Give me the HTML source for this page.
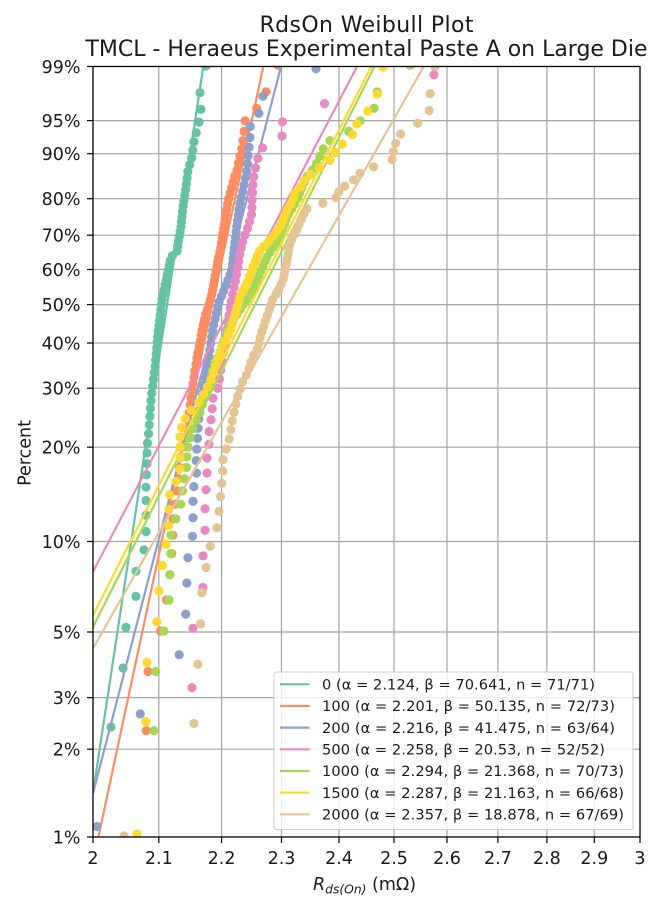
<!DOCTYPE html>
<html><head><meta charset="utf-8">
<style>
html,body{margin:0;padding:0;background:#fff;}
svg{display:block;font-family:"DejaVu Sans","Liberation Sans",sans-serif;}
</style></head>
<body>
<svg id="s" width="664" height="906" viewBox="0 0 664 906" xmlns="http://www.w3.org/2000/svg">
<defs><clipPath id="c"><rect x="93" y="66.5" width="547" height="770.5"/></clipPath></defs>
<rect width="664" height="906" fill="#fff"/>
<!-- grid -->
<g stroke="#a4a4a4" stroke-width="1.2">
<line x1="158.8" y1="66.5" x2="158.8" y2="837"/>
<line x1="221.6" y1="66.5" x2="221.6" y2="837"/>
<line x1="281.5" y1="66.5" x2="281.5" y2="837"/>
<line x1="339" y1="66.5" x2="339" y2="837"/>
<line x1="394" y1="66.5" x2="394" y2="837"/>
<line x1="447" y1="66.5" x2="447" y2="837"/>
<line x1="497.9" y1="66.5" x2="497.9" y2="837"/>
<line x1="546.9" y1="66.5" x2="546.9" y2="837"/>
<line x1="594.3" y1="66.5" x2="594.3" y2="837"/>
<line x1="93" y1="749.2" x2="640" y2="749.2"/>
<line x1="93" y1="697.6" x2="640" y2="697.6"/>
<line x1="93" y1="632" x2="640" y2="632"/>
<line x1="93" y1="541.5" x2="640" y2="541.5"/>
<line x1="93" y1="447.2" x2="640" y2="447.2"/>
<line x1="93" y1="388.2" x2="640" y2="388.2"/>
<line x1="93" y1="343" x2="640" y2="343"/>
<line x1="93" y1="304.6" x2="640" y2="304.6"/>
<line x1="93" y1="269.5" x2="640" y2="269.5"/>
<line x1="93" y1="235.2" x2="640" y2="235.2"/>
<line x1="93" y1="198.7" x2="640" y2="198.7"/>
<line x1="93" y1="153.7" x2="640" y2="153.7"/>
<line x1="93" y1="120.6" x2="640" y2="120.6"/>
</g>
<g clip-path="url(#c)" stroke-width="2.2" fill="none">
<g id="p0"></g><line x1="93" y1="792.9" x2="640" y2="-2808.9" stroke="#66c2a5"/>
<g id="p1"></g><line x1="93" y1="862.3" x2="640" y2="-1694.0" stroke="#fc8d62"/>
<g id="p2"></g><line x1="93" y1="793.4" x2="640" y2="-1321.3" stroke="#8da0cb"/>
<g id="p3"></g><line x1="93" y1="571.8" x2="640" y2="-475.0" stroke="#e78ac3"/>
<g id="p4"></g><line x1="93" y1="627.1" x2="640" y2="-462.4" stroke="#a6d854"/>
<g id="p5"></g><line x1="93" y1="615.4" x2="640" y2="-463.6" stroke="#ffd92f"/>
<g id="p6"></g><line x1="93" y1="648.4" x2="640" y2="-314.1" stroke="#e5c494"/>
</g>
<!-- legend -->
<rect x="274" y="672" width="359" height="157.5" rx="3" fill="#fff" fill-opacity="0.8" stroke="#cccccc" stroke-width="1"/>
<g stroke-width="2.2">
<line x1="280" y1="684.3" x2="309.5" y2="684.3" stroke="#66c2a5"/>
<line x1="280" y1="706" x2="309.5" y2="706" stroke="#fc8d62"/>
<line x1="280" y1="727.6" x2="309.5" y2="727.6" stroke="#8da0cb"/>
<line x1="280" y1="749.3" x2="309.5" y2="749.3" stroke="#e78ac3"/>
<line x1="280" y1="771" x2="309.5" y2="771" stroke="#a6d854"/>
<line x1="280" y1="792.6" x2="309.5" y2="792.6" stroke="#ffd92f"/>
<line x1="280" y1="814.3" x2="309.5" y2="814.3" stroke="#e5c494"/>
</g>
<g font-size="14.6" fill="#1a1a1a">
<text x="322" y="689.5" textLength="273">0 (α = 2.124, β = 70.641, n = 71/71)</text>
<text x="322" y="711.2" textLength="293">100 (α = 2.201, β = 50.135, n = 72/73)</text>
<text x="322" y="732.8" textLength="293">200 (α = 2.216, β = 41.475, n = 63/64)</text>
<text x="322" y="754.5" textLength="283">500 (α = 2.258, β = 20.53, n = 52/52)</text>
<text x="322" y="776.2" textLength="302">1000 (α = 2.294, β = 21.368, n = 70/73)</text>
<text x="322" y="797.8" textLength="302">1500 (α = 2.287, β = 21.163, n = 66/68)</text>
<text x="322" y="819.5" textLength="302">2000 (α = 2.357, β = 18.878, n = 67/69)</text>
</g>
<!-- axes frame -->
<rect x="93" y="66.5" width="547" height="770.5" fill="none" stroke="#000" stroke-width="1.3"/>
<!-- ticks -->
<g stroke="#000" stroke-width="1.2">
<line x1="93" y1="837" x2="93" y2="843"/><line x1="158.8" y1="837" x2="158.8" y2="843"/><line x1="221.6" y1="837" x2="221.6" y2="843"/><line x1="281.5" y1="837" x2="281.5" y2="843"/><line x1="339" y1="837" x2="339" y2="843"/><line x1="394" y1="837" x2="394" y2="843"/><line x1="447" y1="837" x2="447" y2="843"/><line x1="497.9" y1="837" x2="497.9" y2="843"/><line x1="546.9" y1="837" x2="546.9" y2="843"/><line x1="594.3" y1="837" x2="594.3" y2="843"/><line x1="640" y1="837" x2="640" y2="843"/>
<line x1="87" y1="837" x2="93" y2="837"/><line x1="87" y1="749.2" x2="93" y2="749.2"/><line x1="87" y1="697.6" x2="93" y2="697.6"/><line x1="87" y1="632" x2="93" y2="632"/><line x1="87" y1="541.5" x2="93" y2="541.5"/><line x1="87" y1="447.2" x2="93" y2="447.2"/><line x1="87" y1="388.2" x2="93" y2="388.2"/><line x1="87" y1="343" x2="93" y2="343"/><line x1="87" y1="304.6" x2="93" y2="304.6"/><line x1="87" y1="269.5" x2="93" y2="269.5"/><line x1="87" y1="235.2" x2="93" y2="235.2"/><line x1="87" y1="198.7" x2="93" y2="198.7"/><line x1="87" y1="153.7" x2="93" y2="153.7"/><line x1="87" y1="120.6" x2="93" y2="120.6"/><line x1="87" y1="66.5" x2="93" y2="66.5"/>
</g>
<g font-size="17.5" fill="#1a1a1a" text-anchor="middle">
<text x="93" y="864">2</text><text x="158.8" y="864">2.1</text><text x="221.6" y="864">2.2</text><text x="281.5" y="864">2.3</text><text x="339" y="864">2.4</text><text x="394" y="864">2.5</text><text x="447" y="864">2.6</text><text x="497.9" y="864">2.7</text><text x="546.9" y="864">2.8</text><text x="594.3" y="864">2.9</text><text x="640" y="864">3</text>
</g>
<g font-size="17.5" fill="#1a1a1a" text-anchor="end">
<text x="80.5" y="843.4">1%</text><text x="80.5" y="755.6">2%</text><text x="80.5" y="704">3%</text><text x="80.5" y="638.4">5%</text><text x="80.5" y="547.9">10%</text><text x="80.5" y="453.6">20%</text><text x="80.5" y="394.6">30%</text><text x="80.5" y="349.4">40%</text><text x="80.5" y="311">50%</text><text x="80.5" y="275.9">60%</text><text x="80.5" y="241.6">70%</text><text x="80.5" y="205.1">80%</text><text x="80.5" y="160.1">90%</text><text x="80.5" y="127">95%</text><text x="80.5" y="72.9">99%</text>
</g>
<text transform="translate(30.5,453) rotate(-90)" font-size="17.5" fill="#1a1a1a" text-anchor="middle">Percent</text>
<text x="313" y="890" font-size="17.5" fill="#1a1a1a"><tspan font-style="italic">R</tspan><tspan font-style="italic" font-size="12.3" dy="3.5">ds(On)</tspan><tspan dy="-3.5"> (mΩ)</tspan></text>
<text x="366.5" y="32" font-size="22" fill="#1a1a1a" text-anchor="middle" textLength="214">RdsOn Weibull Plot</text>
<text x="366.5" y="56" font-size="22" fill="#1a1a1a" text-anchor="middle" textLength="562">TMCL - Heraeus Experimental Paste A on Large Die</text>
</svg>
<script>
(function(){
var H=66.5,K=125.75,W99=1.52718;
function yF(F){return H+(W99-Math.log(-Math.log(1-F)))*K;}
function interp(cp,y){
  if(y<=cp[0][0])return cp[0][1];
  for(var i=1;i<cp.length;i++){
    if(y<=cp[i][0]){var a=cp[i-1],b=cp[i];var t=(y-a[0])/(b[0]-a[0]);return a[1]+t*(b[1]-a[1]);}
  }
  return cp[cp.length-1][1];
}
var S=[
{c:'#66c2a5',n:71,cp:[[66,206],[92,200],[109,201],[122,199],[141,194],[157,192],[170,188],[187,186],[207,183],[227,181],[243,178],[252,177],[257,171],[300,162],[333,158],[367,155],[400,151],[430,149],[447,147],[463,147],[487,146],[515,146],[532,146],[550,144],[571,136],[596,136],[627,126],[668,123],[727,111],[840,80]]},
{c:'#fc8d62',n:73,cp:[[66,278],[92,266],[108,257],[121,245],[132,244],[140,243],[148,242],[160,239],[170,237],[178,234],[187,232],[197,229],[207,227],[220,225],[233,223],[247,221],[260,218],[283,214],[298,211],[317,205],[330,202],[343,200],[352,198],[370,195],[390,192],[440,186],[453,181],[490,177],[517,173],[533,173],[552,172],[573,170],[598,167],[629,161],[669,148],[729,147],[843,88]]},
{c:'#8da0cb',n:64,cp:[[70,316],[96,263],[113,259],[127,250],[138,250],[148,249],[158,248],[170,247],[180,245],[190,243],[203,240],[217,238],[233,236],[250,234],[270,232],[290,224],[302,219],[328,213],[362,208],[388,203],[405,200],[428,198],[447,197],[458,196],[471,197],[484,194],[499,193],[516,193],[534,193],[556,188],[581,187],[612,186],[652,181],[712,141],[826,97]]},
{c:'#e78ac3',n:52,cp:[[75,434],[104,323],[122,282],[136,282],[147,263],[158,258],[170,255],[180,253],[190,253],[200,252],[213,252],[227,248],[240,243],[253,240],[267,238],[283,235],[297,232],[328,227],[388,218],[398,213],[410,212],[420,211],[432,209],[444,209],[458,207],[473,207],[489,206],[509,205],[530,205],[556,203],[587,203],[627,193],[688,192],[800,80]]},
{c:'#a6d854',n:73,cp:[[67,410],[92,377],[109,374],[122,359],[132,348],[142,327],[151,322],[158,319],[167,315],[175,308],[187,302],[200,297],[217,287],[237,280],[257,267],[273,260],[290,253],[325,230],[352,220],[368,213],[385,210],[402,203],[412,200],[428,193],[442,189],[452,187],[462,187],[473,186],[485,183],[498,182],[512,179],[529,171],[548,171],[569,170],[594,170],[626,165],[666,156],[726,154],[843,149]]},
{c:'#ffd92f',n:68,cp:[[68,383],[95,377],[112,367],[125,356],[136,352],[146,340],[157,332],[165,327],[169,315],[177,308],[183,302],[188,300],[192,295],[200,293],[210,287],[227,280],[240,270],[250,260],[267,253],[283,247],[297,240],[308,237],[332,230],[345,223],[368,215],[382,210],[395,203],[405,197],[413,188],[423,183],[432,180],[443,180],[465,180],[477,179],[490,170],[505,169],[522,169],[540,167],[562,163],[587,159],[618,158],[658,147],[718,146],[834,137]]},
{c:'#e5c494',n:69,cp:[[68,435],[95,430],[112,429],[124,417],[135,399],[145,395],[153,393],[160,392],[168,370],[175,357],[182,352],[188,341],[197,336],[200,336],[207,308],[215,303],[227,298],[243,290],[260,287],[280,283],[293,277],[298,273],[308,270],[322,265],[338,260],[348,258],[358,252],[372,248],[383,242],[395,238],[408,235],[422,232],[435,230],[445,228],[456,223],[467,223],[479,222],[493,221],[508,219],[523,219],[542,211],[563,207],[589,202],[620,201],[661,198],[720,196],[836,124]]}
];
var NS='http://www.w3.org/2000/svg';
S.forEach(function(s,k){
  var g=document.getElementById('p'+k);
  for(var i=1;i<=s.n;i++){
    var F=(i-0.3)/(s.n+0.4);
    var y=yF(F);
    var x=interp(s.cp,y);
    var c=document.createElementNS(NS,'circle');
    c.setAttribute('cx',x.toFixed(1));
    c.setAttribute('cy',y.toFixed(1));
    c.setAttribute('r','4.6');
    c.setAttribute('fill',s.c);
    c.setAttribute('stroke','none');
    g.appendChild(c);
  }
});
})();
</script>
</body></html>
